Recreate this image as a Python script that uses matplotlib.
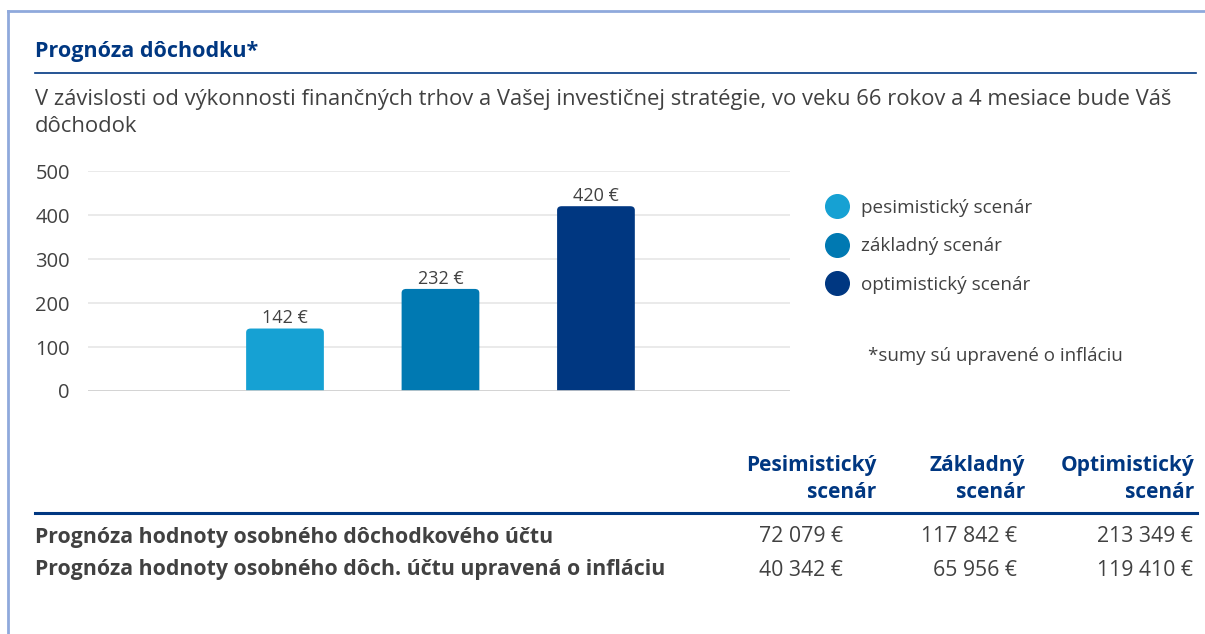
import matplotlib
matplotlib.use('Agg')
import matplotlib.pyplot as plt
from matplotlib.lines import Line2D
from matplotlib.patches import FancyBboxPatch

# data
scenarios = ['pesimistický scenár', 'základný scenár', 'optimistický scenár']
monthly_pension = [142, 232, 420]
bar_labels = ['142 €', '232 €', '420 €']
yticks = [0, 100, 200, 300, 400, 500]

table_headers = [['Pesimistický', 'scenár'], ['Základný', 'scenár'], ['Optimistický', 'scenár']]
row_labels = ['Prognóza hodnoty osobného dôchodkového účtu',
              'Prognóza hodnoty osobného dôch. účtu upravená o infláciu']
row_values = [['72 079 €', '117 842 €', '213 349 €'],
              ['40 342 €', '65 956 €', '119 410 €']]

colors = ['#16a1d3', '#0079b2', '#003781']
navy = '#003781'
gray = '#414141'

plt.rcParams['font.family'] = ['Open Sans', 'DejaVu Sans']

W, H = 1205, 634
fig = plt.figure(figsize=(W / 100, H / 100), dpi=100)


def fx(x):
    return x / W


def fy(y):
    return 1 - y / H


# frame (top + left)
fig.add_artist(Line2D([fx(8), fx(8)], [fy(11), 0], color='#8fa9dc', lw=2))
fig.add_artist(Line2D([fx(8), 1], [fy(11), fy(11)], color='#8fa9dc', lw=2))

# title and subtitle
fig.text(fx(35), fy(52), 'Prognóza dôchodku*', color=navy, fontsize=15.5,
         fontweight='bold', va='center')
fig.add_artist(Line2D([fx(35), fx(1196)], [fy(73), fy(73)], color=navy, lw=1.2))
fig.text(fx(35), fy(100), 'V závislosti od výkonnosti finančných trhov a Vašej investičnej '
         'stratégie, vo veku 66 rokov a 4 mesiace bude Váš', color=gray, fontsize=15.8, va='center')
fig.text(fx(35), fy(126), 'dôchodok', color=gray, fontsize=15.8, va='center')

# bar chart
ax = fig.add_axes([fx(88), fy(391), (790 - 88) / W, (391 - 171) / H])
xpos = [1, 2, 3]
bars = ax.bar(xpos, monthly_pension, width=0.5, color=colors, zorder=3)
# slightly rounded top corners (bottom corners hidden below y=0)
for b in bars:
    b.set_visible(False)
    rounded = FancyBboxPatch((b.get_x(), -20), b.get_width(), b.get_height() + 20,
                             boxstyle='round,pad=0,rounding_size=0.03',
                             mutation_aspect=300, facecolor=b.get_facecolor(),
                             edgecolor='none', zorder=3)
    ax.add_patch(rounded)
for b, lab in zip(bars, bar_labels):
    ax.text(b.get_x() + b.get_width() / 2, b.get_height() + 3, lab, ha='center',
            va='bottom', fontsize=13, color=gray)
ax.set_xlim(-0.267, 4.248)
ax.set_ylim(0, 500)
ax.set_yticks(yticks)
ax.set_xticks([])
ax.grid(axis='y', color='#e6e6e6', lw=1.2, zorder=0)
for s in ax.spines.values():
    s.set_visible(False)
ax.tick_params(axis='y', length=0, pad=13, labelsize=14.5, labelcolor=gray)
ax.axhline(0, color='#d0d0d0', lw=1.2, zorder=4)

# legend
handles = [Line2D([], [], marker='o', ls='', markersize=17, color=c) for c in colors]
fig.legend(handles, scenarios, loc='upper left', bbox_to_anchor=(fx(806), fy(182)),
           frameon=False, fontsize=13.6, labelcolor=gray, handletextpad=0.5,
           labelspacing=1.08, handlelength=1.5)
fig.text(fx(868), fy(356), '*sumy sú upravené o infláciu', color=gray, fontsize=13.5,
         va='center')

# table
header_x = [876, 1025, 1194]
value_x = [843, 1017, 1193]
for hx, hdr in zip(header_x, table_headers):
    fig.text(fx(hx), fy(466), hdr[0], ha='right', va='center', color=navy,
             fontsize=15, fontweight='bold')
    fig.text(fx(hx), fy(493), hdr[1], ha='right', va='center', color=navy,
             fontsize=15, fontweight='bold')
fig.add_artist(Line2D([fx(35), fx(1197)], [fy(513), fy(513)], color=navy, lw=2.2))
for ry, lab, vals in zip([537, 570], row_labels, row_values):
    fig.text(fx(35), fy(ry), lab, ha='left', va='center', color=gray, fontsize=15.3,
             fontweight='bold')
    for vx, v in zip(value_x, vals):
        fig.text(fx(vx), fy(ry), v, ha='right', va='center', color=gray, fontsize=15.3)

fig.savefig('out.png', dpi=100, facecolor='white')
